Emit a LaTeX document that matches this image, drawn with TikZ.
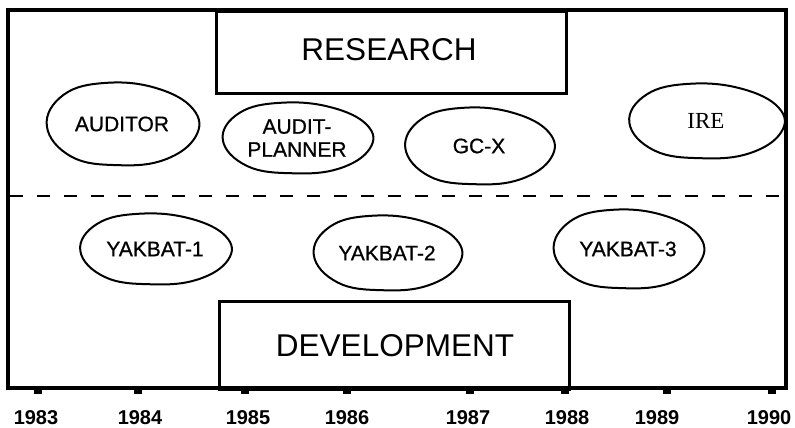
\documentclass[tikz,border=0pt]{standalone}
\usepackage{fontspec}
\setmainfont{Liberation Sans}
\newfontfamily\serifA{Liberation Serif}
\newfontfamily\heavy{Liberation Sans}[BoldFont={Liberation Sans}, BoldFeatures={FakeBold=0.7}]
\begin{document}
\begin{tikzpicture}[x=1pt,y=-1pt,
  frameline/.style={line width=3.6pt},
  boxline/.style={line width=3pt},
  blobline/.style={line width=2pt},
  blobtext/.style={font=\heavy\bfseries\fontsize{21}{23}\selectfont, align=center, inner sep=0pt},
  bigtext/.style={font=\fontsize{31.5}{34}\selectfont, inner sep=0pt},
  yeartext/.style={font=\bfseries\fontsize{20}{22}\selectfont, inner sep=0pt},
  tickmark/.style={fill=black, minimum width=8pt, minimum height=5pt, inner sep=0pt},
  dashline/.style={line width=2.4pt, dash pattern=on 13pt off 14pt}]
\useasboundingbox (0,0) rectangle (795,428);
% frame
\draw[frameline] (8,10) rectangle (786,388);
% boxes
\node[draw, boxline, minimum width=350pt, minimum height=82pt, anchor=north west, inner sep=0pt] (resbox) at (215,10) {};
\node[bigtext] (research) at (389,50) {RESEARCH};
\node[draw, boxline, minimum width=350pt, minimum height=88pt, anchor=north west, inner sep=0pt] (devbox) at (218,300) {};
\node[bigtext] (development) at (395,346) {DEVELOPMENT};
% dashed divider
\coordinate (dl) at (10,196);
\coordinate (dr) at (784,196);
\draw[dashline] (dl) -- (dr);
% blobs
\newcommand{\myblob}[6]{%
  \node[blobtext] (#1) at (#2,#3) {#6};
  \draw[blobline, shift={(#2,#3)}, xscale=#4/2, yscale=#5/2]
    plot[smooth cycle, tension=0.7] coordinates {(-0.97,0.05) (-0.75,-0.7) (-0.2,-0.98) (0.45,-0.85) (0.92,-0.35) (0.95,0.3) (0.55,0.85) (-0.05,0.98) (-0.65,0.78)};
}
\myblob{auditor}{122}{124}{155}{84}{AUDITOR}
\myblob{planner}{297}{138}{153}{72}{AUDIT-\\PLANNER}
\myblob{gcx}{479}{146}{152}{78}{GC-X}
\myblob{ire}{706}{121}{158}{76}{\mdseries\serifA\fontsize{23}{25}\selectfont IRE}
\myblob{yak1}{155}{249}{154}{72}{YAKBAT-1}
\myblob{yak2}{387}{253}{151}{76}{YAKBAT-2}
\myblob{yak3}{628}{249}{153}{80}{YAKBAT-3}
% ticks and years
\foreach \yr/\tx/\lx in {1983/38/36,1984/138/140,1985/245/248,1986/347/347,1987/470/468,1988/565/567,1989/667/657,1990/772/769}{
  \node[tickmark] (t\yr) at (\tx,391) {};
  \node[yeartext] (y\yr) at (\lx,418) {\yr};
}
\end{tikzpicture}
\end{document}
